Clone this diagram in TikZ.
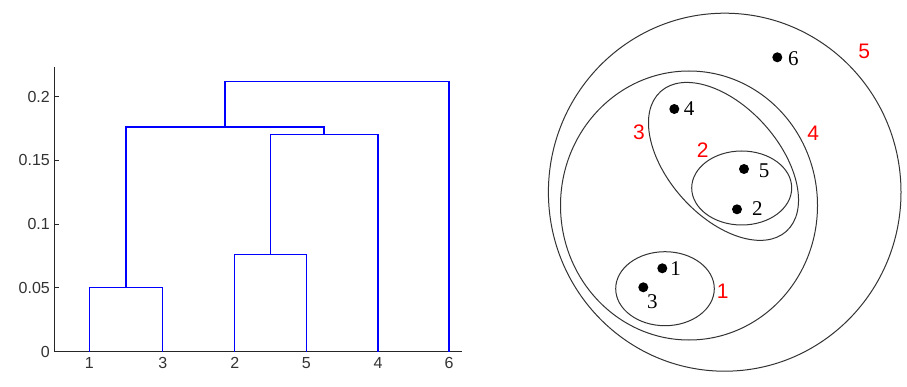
\documentclass[tikz,border=0pt]{standalone}
\usepackage{fontspec}
\setmainfont{Liberation Serif}
\newfontfamily\arialfont{Liberation Sans}
\begin{document}
\begin{tikzpicture}[x=1pt,y=-1pt,
  branch/.style={draw=blue, line width=1.5pt},
  axisline/.style={draw=black!85, line width=1pt},
  ticklab/.style={font=\arialfont\fontsize{16}{16}\selectfont, text=black!80, inner sep=1pt},
  ring/.style={draw=black!80, line width=1pt},
  dot/.style={circle, fill=black, inner sep=0pt, minimum size=10pt},
  ptlab/.style={font=\fontsize{21}{21}\selectfont, inner sep=0pt},
  redlab/.style={font=\arialfont\fontsize{21}{21}\selectfont, text=red, inner sep=0pt}]
\useasboundingbox (0,0) rectangle (907,387);
\fill[white] (0,0) rectangle (907,387);
% ---------- dendrogram axes ----------
\coordinate (ytop) at (54.3,67.3);
\coordinate (org) at (54.3,351.7);
\coordinate (xend) at (462,351.7);
\draw[axisline] (ytop) -- (org) -- (xend);
\foreach \v/\y in {0/351.7, 0.05/287.95, 0.1/224.2, 0.15/160.45, 0.2/96.7}{
  \draw[axisline] (54.3,\y) -- (59.3,\y);
  \node[ticklab, anchor=east] (t\v) at (51,\y) {\v};
}
% leaves
\foreach \n/\x in {1/89.3, 3/162.7, 2/234.7, 5/306.3, 4/378, 6/449}{
  \coordinate (L\n) at (\x,351.7);
  \node[ticklab, anchor=north] (lab\n) at (\x,356) {\n};
}
% merge points
\coordinate (m13) at (126,287.7);
\coordinate (m25) at (270.5,254.3);
\coordinate (m254) at (324.2,134.7);
\coordinate (m5) at (225,127);
\coordinate (mtop) at (337,81.7);
\draw[branch] (L1) -- (L1 |- m13) -- (L3 |- m13) -- (L3);
\draw[branch] (L2) -- (L2 |- m25) -- (L5 |- m25) -- (L5);
\draw[branch] (m25) -- (m25 |- m254) -- (L4 |- m254) -- (L4);
\draw[branch] (m13) -- (m13 |- m5) -- (m254 |- m5) -- (m254);
\draw[branch] (m5) -- (m5 |- mtop) -- (L6 |- mtop) -- (L6);
% ---------- nested clusters ----------
\draw[ring] (724.7,192.2) ellipse [x radius=176.3, y radius=179];
\draw[ring] (689,205.5) ellipse [x radius=128.5, y radius=134.5];
\draw[ring, rotate around={-48:(723.5,161.4)}] (723.5,161.4) ellipse [x radius=94, y radius=55];
\draw[ring] (741.7,188) ellipse [x radius=50, y radius=37];
\draw[ring] (665,288.7) ellipse [x radius=49.3, y radius=37];
% points
\node[dot] (p6) at (777.3,57.3) {};
\node[dot] (p4) at (674.3,109) {};
\node[dot] (p5) at (744,169) {};
\node[dot] (p2) at (737,209.3) {};
\node[dot] (p1) at (662.3,268.3) {};
\node[dot] (p3) at (643.3,287.3) {};
\node[ptlab] (n6) at (793.3,58.3) {6};
\node[ptlab] (n4) at (689,109) {4};
\node[ptlab] (n5) at (764,170.7) {5};
\node[ptlab] (n2) at (757.3,208.3) {2};
\node[ptlab] (n1) at (675.7,268.3) {1};
\node[ptlab] (n3) at (652.3,301.7) {3};
% cluster numbers
\node[redlab] (c5) at (864.3,51.7) {5};
\node[redlab] (c4) at (813.3,133.3) {4};
\node[redlab] (c3) at (639,132.7) {3};
\node[redlab] (c2) at (702.7,150) {2};
\node[redlab] (c1) at (722.7,291) {1};
\end{tikzpicture}
\end{document}
